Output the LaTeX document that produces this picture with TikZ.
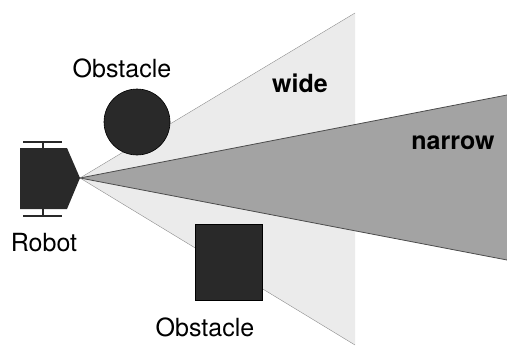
\documentclass[tikz,border=0pt]{standalone}
\usepackage{fontspec}
\setmainfont{TeX Gyre Heros}
\usepackage{tikz}
\usetikzlibrary{positioning}

\definecolor{widegray}{gray}{0.92}
\definecolor{narrowgray}{gray}{0.64}
\definecolor{objdark}{gray}{0.16}

\begin{document}
\begin{tikzpicture}[
  x=1pt, y=-1pt,
  font=\fontsize{25}{30}\selectfont,
  obj/.style={fill=objdark, draw=black, line width=0.6pt, inner sep=0pt},
  axle/.style={line width=1.6pt, objdark},
  lbl/.style={inner sep=0pt}
]
\useasboundingbox (0,0) rectangle (507,351);
\coordinate (nose) at (80,178);
% wide beam
\fill[widegray] (nose) -- (355,13) -- (355,345) -- cycle;
\draw[black!45, line width=0.4pt] (355,13) -- (nose) -- (355,345);
% narrow beam
\fill[narrowgray] (nose) -- (507,95) -- (507,260) -- cycle;
\draw[black!70, line width=0.8pt] (507,95) -- (nose) -- (507,260);
% robot
\fill[objdark] (20,148) -- (67,148) -- (nose) -- (67,209) -- (20,209) -- cycle;
\draw[axle] (23,142) -- (62,142) (43,142) -- (43,148);
\draw[axle] (23,216) -- (62,216) (43,209) -- (43,216);
% obstacles
\node[obj, circle, minimum size=66pt] (obstA) at (137,122) {};
\node[obj, minimum width=67pt, minimum height=76pt] (obstB) at (228.5,262) {};
% labels
\node[lbl] (lblA) at (122,68) {Obstacle};
\node[lbl] (lblB) at (205,327) {Obstacle};
\node[lbl] (lblRobot) at (44,243) {Robot};
\node[lbl, font=\fontsize{25}{30}\selectfont\bfseries] (lblWide) at (300,83) {wide};
\node[lbl, font=\fontsize{25}{30}\selectfont\bfseries] (lblNarrow) at (453,143) {narrow};
\end{tikzpicture}
\end{document}
